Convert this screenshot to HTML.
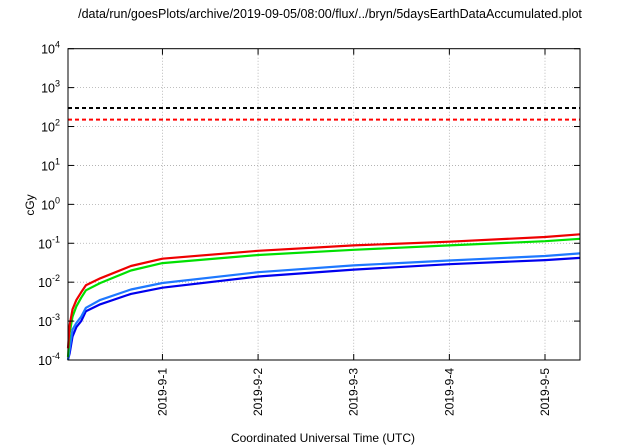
<!DOCTYPE html>
<html><head><meta charset="utf-8"><style>
body{margin:0;background:#fff;}
svg{display:block;font-family:"Liberation Sans",Arial,sans-serif;}
</style></head><body>
<svg id="chart" width="640" height="448" viewBox="0 0 640 448">
<rect width="640" height="448" fill="#fff"/>
<text x="330" y="18" font-size="12.5" text-anchor="middle">/data/run/goesPlots/archive/2019-09-05/08:00/flux/../bryn/5daysEarthDataAccumulated.plot</text>
<g id="grid"></g>
<g id="series"></g>
<rect x="68" y="48.7" width="512" height="311.3" fill="none" stroke="#000" stroke-width="1"/>
<g id="axes"></g>
<text transform="translate(34,205) rotate(-90)" font-size="12" text-anchor="middle">cGy</text>
<text x="323" y="442" font-size="12" text-anchor="middle">Coordinated Universal Time (UTC)</text>
</svg>
<script>
// days relative to 2019-9-1 00:00
const xDomain=[-0.9875,4.366];
const yTickExps=[-4,-3,-2,-1,0,1,2,3,4];
const xTickDays=[0,1,2,3,4];
const xTickLabels=["2019-9-1","2019-9-2","2019-9-3","2019-9-4","2019-9-5"];
const times=[-0.987,-0.97,-0.94,-0.9,-0.85,-0.8,-0.65,-0.33,0,1,2,3,4,4.366];
const redVals=[0.0002,0.0008,0.002,0.0035,0.0055,0.0083,0.0126,0.026,0.04,0.064,0.088,0.11,0.145,0.17];
const greenVals=[0.00012,0.0005,0.0013,0.0024,0.004,0.0062,0.0095,0.02,0.031,0.05,0.068,0.088,0.113,0.13];
const lightBlueVals=[0.0001,0.0002,0.0006,0.0009,0.0013,0.0022,0.0035,0.0065,0.0095,0.018,0.027,0.036,0.047,0.055];
const blueVals=[0.0001,0.00015,0.0004,0.0007,0.001,0.0018,0.0027,0.005,0.0072,0.014,0.021,0.029,0.037,0.042];
const limit1=300, limit2=150;
const X0=68,X1=580,Y0=360,Y1=48.7;
const sx=t=>X0+(t-xDomain[0])/(xDomain[1]-xDomain[0])*(X1-X0);
const sy=v=>Y0-(Math.log10(v)+4)/8*(Y0-Y1);
const NS="http://www.w3.org/2000/svg";
function mk(tag,attrs,parent){const e=document.createElementNS(NS,tag);for(const k in attrs)e.setAttribute(k,attrs[k]);parent.appendChild(e);return e;}
const grid=document.getElementById('grid'),axes=document.getElementById('axes'),ser=document.getElementById('series');
yTickExps.forEach(p=>{const y=sy(Math.pow(10,p));
 if(p>-4&&p<4){const g=mk('line',{x1:X0,x2:X1,y1:y,y2:y,stroke:'#aaa','stroke-width':0.8,'stroke-dasharray':'1,2'},grid);
 
 }
 mk('line',{x1:X0,x2:X0+6,y1:y,y2:y,stroke:'#000'},axes);
 mk('line',{x1:X1,x2:X1-6,y1:y,y2:y,stroke:'#000'},axes);
 const t=mk('text',{x:X0-8,y:y+5,'font-size':12.5,'text-anchor':'end'},axes);
 
 
 t.innerHTML='10<tspan dy="-6" font-size="9">'+p+'</tspan>';
});
xTickDays.forEach((d,i)=>{const x=sx(d);
 const g=mk('line',{x1:x,x2:x,y1:Y1,y2:Y0,stroke:'#aaa','stroke-width':0.8,'stroke-dasharray':'1,2'},grid);
 
 
 mk('line',{x1:x,x2:x,y1:Y0,y2:Y0-6,stroke:'#000'},axes);
 mk('line',{x1:x,x2:x,y1:Y1,y2:Y1+6,stroke:'#000'},axes);
 const t=mk('text',{transform:`translate(${x+4},368) rotate(-90)`,'font-size':12,'text-anchor':'end'},axes);
 
 
 t.textContent=xTickLabels[i];
});
[[limit1,'#000','limit-line-black'],[limit2,'#f00','limit-line-red']].forEach(([v,c,n])=>{
 const l=mk('line',{x1:X0,x2:X1,y1:sy(v),y2:sy(v),stroke:c,'stroke-width':2,'stroke-dasharray':'4,3'},ser);
 
 
});
[[blueVals,'#0000ee','series-blue'],[lightBlueVals,'#1e78ff','series-light-blue'],[greenVals,'#00e000','series-green'],[redVals,'#ee0000','series-red']].forEach(([vals,c,n])=>{
 const p=mk('path',{d:vals.map((v,i)=>(i?'L':'M')+sx(times[i]).toFixed(1)+','+sy(v).toFixed(1)).join(''),fill:'none',stroke:c,'stroke-width':2.2,'stroke-linejoin':'round'},ser);
 
 
});
</script>
</body></html>
